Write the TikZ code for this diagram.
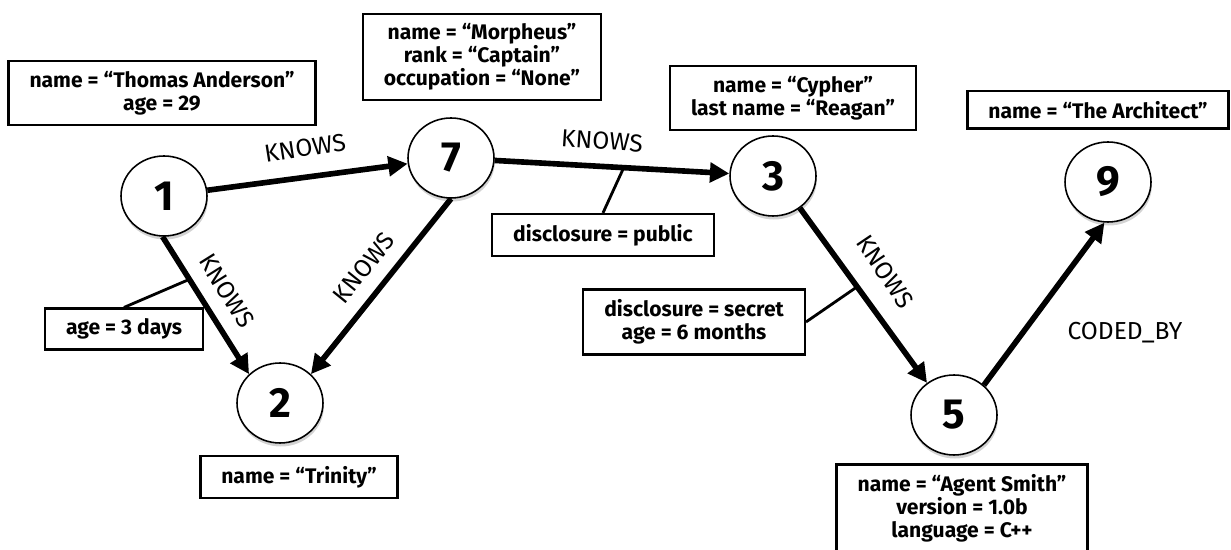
\documentclass[tikz,border=0pt]{standalone}
\usepackage{fontspec}
\setmainfont{Fira Sans}
\usetikzlibrary{arrows.meta, shapes.geometric, shadows}

\tikzset{
  vertex/.style={ellipse, draw, line width=0.9pt, fill=white,
    minimum width=1.72cm, minimum height=1.6cm, inner sep=0pt,
    font=\bfseries\fontsize{24}{24}\selectfont,
    drop shadow={shadow xshift=0.5pt, shadow yshift=-2pt, opacity=0.35}},
  prop/.style={draw, line width=1.4pt, align=center, fill=white,
    inner xsep=0.42cm, inner ysep=0.2cm,
    font=\bfseries\fontsize{12}{13}\selectfont},
  rel/.style={line width=3.2pt, -{Triangle[length=11pt, width=11pt]}},
  link/.style={line width=1.6pt},
  tag/.style={font=\fontsize{14}{14}\selectfont, inner sep=0pt}
}

\begin{document}
\begin{tikzpicture}[x=0.02cm, y=-0.02cm]
\useasboundingbox (0,0) rectangle (1231,550);
%the nodes
\node[vertex] (n1) at (164,196) {1};
\node[vertex] (n7) at (451,158) {7};
\node[vertex] (n3) at (773,176) {3};
\node[vertex] (n9) at (1108,182) {9};
\node[vertex] (n2) at (280,403) {2};
\node[vertex] (n5) at (954,415) {5};

%their properties
\node[prop] (p1) at (162,93) {name = “Thomas Anderson”\\age = 29};
\node[prop] (p7) at (482,57) {name = “Morpheus”\\rank = “Captain”\\occupation = “None”};
\node[prop] (p3) at (793,98) {name = “Cypher”\\last name = “Reagan”};
\node[prop] (p9) at (1098,110) {name = “The Architect”};
\node[prop] (p2) at (299,477) {name = “Trinity”};
\node[prop] (p5) at (962,508) {name = “Agent Smith”\\version = 1.0b\\language = C++};

%the relationships
\draw[rel] (n1) -- (n7);
\draw[rel] (n1.268) -- coordinate[pos=0.31] (c12) (n2.137);
\draw[rel] (n7.270) -- (n2.43);
\draw[rel] (n7) -- coordinate[pos=0.55] (c73) (n3);
\draw[rel] (n3.-50) -- coordinate[pos=0.45] (c35) (n5.130);
\draw[rel] (n5.45) -- (n9.265);

%relationship types
\node[tag, rotate=9] (k17) at (305,148) {KNOWS};
\node[tag, rotate=-58] (k12) at (227,291) {KNOWS};
\node[tag, rotate=51] (k72) at (364,268) {KNOWS};
\node[tag, rotate=-4] (k73) at (602,141) {KNOWS};
\node[tag, rotate=-56] (k35) at (885,272) {KNOWS};
\node[tag] (k59) at (1125,333) {CODED\_BY};

%relationship properties
\node[prop] (e12) at (124,329) {age = 3 days};
\node[prop] (e73) at (603,235) {disclosure = public};
\node[prop] (e35) at (694,322) {disclosure = secret\\age = 6 months};
\draw[link] (e12.north) -- (c12);
\draw[link] (e73.north) -- (c73);
\draw[link] (e35.east) -- (c35);
\end{tikzpicture}
\end{document}
